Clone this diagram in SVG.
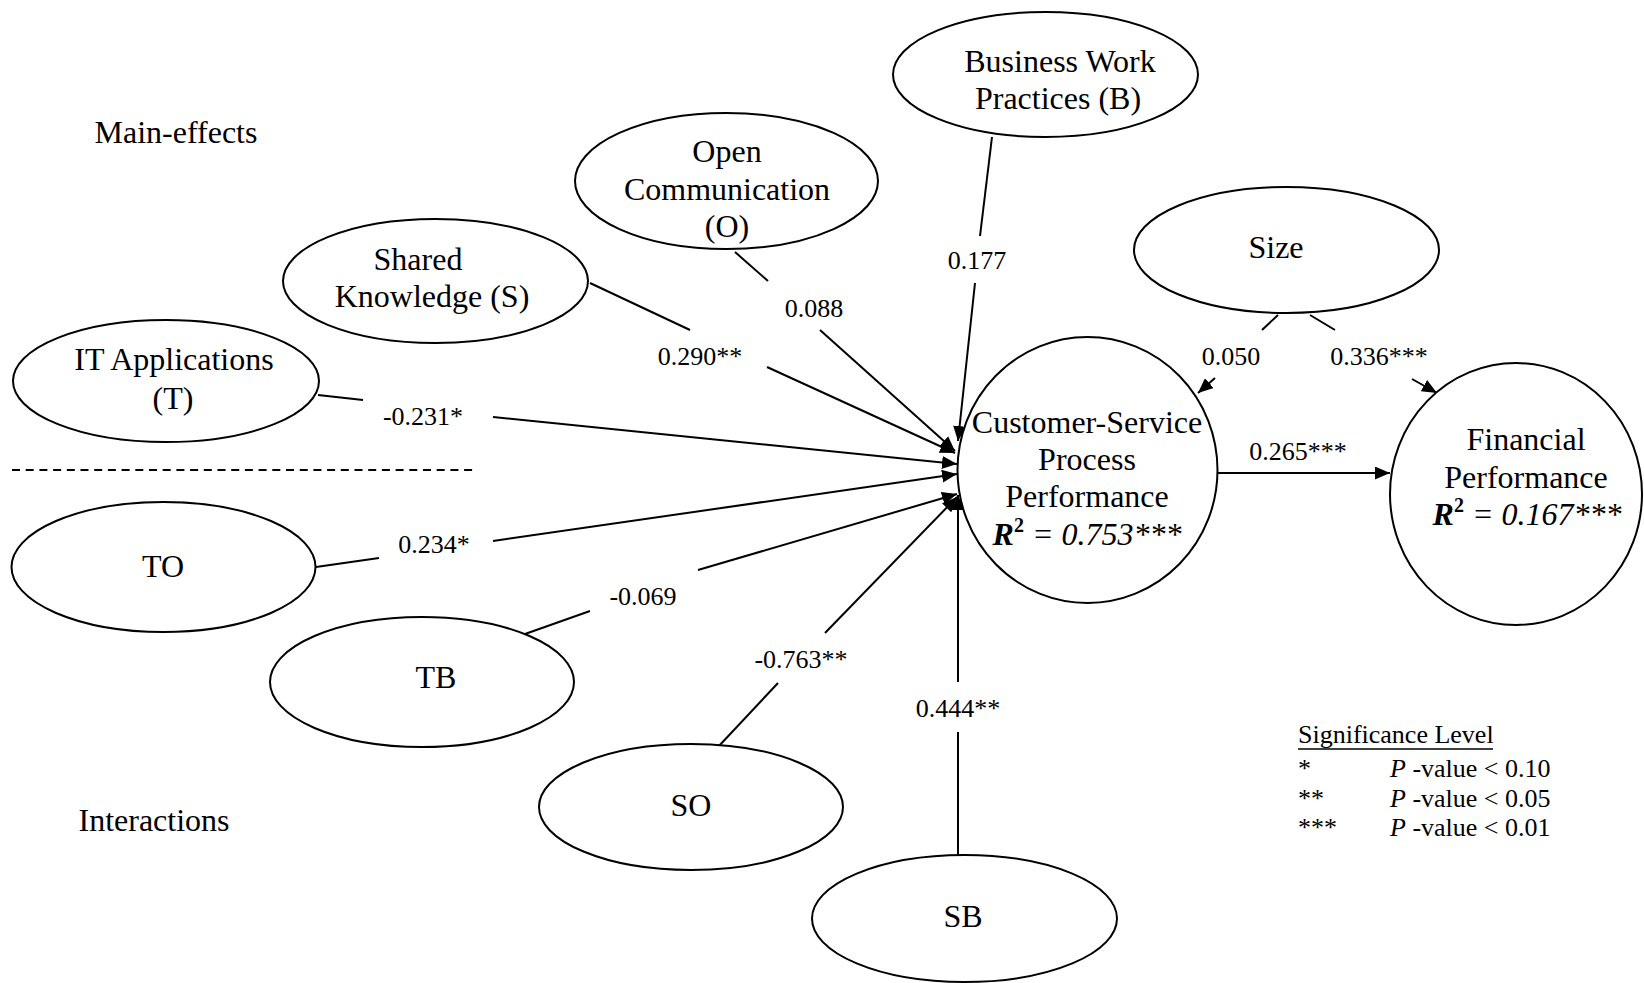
<svg xmlns="http://www.w3.org/2000/svg" width="1644" height="983" viewBox="0 0 1644 983">
<defs>
<marker id="ah" markerWidth="15" markerHeight="13" refX="15" refY="6.5" orient="auto" markerUnits="userSpaceOnUse">
<path d="M0,0 L15,6.5 L0,13 z" fill="#000"/>
</marker>
<style>
.n{fill:#fff;stroke:#000;stroke-width:2}
.t{font-family:"Liberation Serif","Times New Roman",serif;font-size:32px;fill:#000;text-anchor:middle}
.l{font-family:"Liberation Serif","Times New Roman",serif;font-size:26px;fill:#000;text-anchor:middle}
.c line{stroke:#000;stroke-width:2}
.a{marker-end:url(#ah)}
</style>
</defs>
<rect width="1644" height="983" fill="#fff"/>

<g id="connectors" class="c">
<line x1="992" y1="137" x2="980" y2="236"/>
<line class="a" x1="975" y1="283" x2="958" y2="441"/>
<line x1="735" y1="252" x2="768" y2="281"/>
<line class="a" x1="820" y1="330" x2="955" y2="451"/>
<line x1="590" y1="283" x2="690" y2="330"/>
<line class="a" x1="767" y1="367" x2="955" y2="453"/>
<line x1="318" y1="395" x2="363" y2="400"/>
<line class="a" x1="493" y1="417" x2="957" y2="464"/>
<line x1="316" y1="567" x2="379" y2="558"/>
<line class="a" x1="493" y1="541" x2="957" y2="474"/>
<line x1="525" y1="634" x2="590" y2="611"/>
<line class="a" x1="698" y1="570" x2="957" y2="494"/>
<line x1="718" y1="747" x2="778" y2="683"/>
<line class="a" x1="825" y1="633" x2="957" y2="497"/>
<line x1="958" y1="855" x2="958" y2="732"/>
<line class="a" x1="958" y1="682" x2="958" y2="495"/>
<line class="a" x1="1215" y1="473" x2="1390" y2="473"/>
<line x1="1278" y1="315" x2="1262" y2="330"/>
<line class="a" x1="1215" y1="378" x2="1198" y2="393"/>
<line x1="1310" y1="315" x2="1335" y2="330"/>
<line class="a" x1="1412" y1="379" x2="1437" y2="393"/>
<line x1="12" y1="470" x2="477" y2="470" stroke-dasharray="8 5.7"/>
</g>

<g id="edge-labels">
<text class="l" x="977" y="269">0.177</text>
<text class="l" x="814" y="317">0.088</text>
<text class="l" x="700" y="365">0.290**</text>
<text class="l" x="423" y="425">-0.231*</text>
<text class="l" x="434" y="553">0.234*</text>
<text class="l" x="643" y="605">-0.069</text>
<text class="l" x="801" y="668">-0.763**</text>
<text class="l" x="958" y="717">0.444**</text>
<text class="l" x="1298" y="460">0.265***</text>
<text class="l" x="1231" y="365">0.050</text>
<text class="l" x="1379" y="365">0.336***</text>
</g>

<g id="node-B">
<ellipse class="n" cx="1045.5" cy="74.5" rx="152.5" ry="62.5"/>
<text class="t" x="1060" y="72">Business Work</text>
<text class="t" x="1058" y="109">Practices (B)</text>
</g>
<g id="node-O">
<ellipse class="n" cx="726.5" cy="181" rx="151.5" ry="68"/>
<text class="t" x="727" y="162">Open</text>
<text class="t" x="727" y="200">Communication</text>
<text class="t" x="727" y="237">(O)</text>
</g>
<g id="node-S">
<ellipse class="n" cx="435.5" cy="281" rx="152.5" ry="62"/>
<text class="t" x="418" y="270">Shared</text>
<text class="t" x="432" y="307">Knowledge (S)</text>
</g>
<g id="node-T">
<ellipse class="n" cx="166" cy="381" rx="153" ry="61"/>
<text class="t" x="174" y="370">IT Applications</text>
<text class="t" x="173" y="409">(T)</text>
</g>
<g id="node-TO">
<ellipse class="n" cx="163.5" cy="567" rx="152" ry="65"/>
<text class="t" x="163" y="577">TO</text>
</g>
<g id="node-TB">
<ellipse class="n" cx="422" cy="682" rx="152" ry="65"/>
<text class="t" x="436" y="688">TB</text>
</g>
<g id="node-SO">
<ellipse class="n" cx="691" cy="807" rx="152" ry="63"/>
<text class="t" x="691" y="816">SO</text>
</g>
<g id="node-SB">
<ellipse class="n" cx="964.5" cy="918.5" rx="152.5" ry="63.5"/>
<text class="t" x="963" y="927">SB</text>
</g>
<g id="node-Size">
<ellipse class="n" cx="1286.5" cy="250" rx="152.5" ry="63"/>
<text class="t" x="1276" y="258">Size</text>
</g>
<g id="node-CSP">
<ellipse class="n" cx="1087.5" cy="470" rx="130" ry="133"/>
<text class="t" x="1087" y="433">Customer-Service</text>
<text class="t" x="1087" y="470">Process</text>
<text class="t" x="1087" y="507">Performance</text>
<text class="t" x="1087" y="545"><tspan font-weight="bold" font-style="italic">R</tspan><tspan font-weight="bold" font-size="20" dy="-13">2</tspan><tspan font-style="italic" dy="13"> = 0.753***</tspan></text>
</g>
<g id="node-FP">
<ellipse class="n" cx="1516" cy="494" rx="126" ry="131"/>
<text class="t" x="1526" y="450">Financial</text>
<text class="t" x="1526" y="488">Performance</text>
<text class="t" x="1527" y="525"><tspan font-weight="bold" font-style="italic">R</tspan><tspan font-weight="bold" font-size="20" dy="-13">2</tspan><tspan font-style="italic" dy="13"> = 0.167***</tspan></text>
</g>

<g id="section-labels">
<text class="t" x="176" y="143">Main-effects</text>
<text class="t" x="154" y="831">Interactions</text>
</g>

<g id="legend">
<text class="l" x="1298" y="743" text-anchor="start" style="text-anchor:start">Significance Level</text>
<line x1="1298" y1="749" x2="1493" y2="749" stroke="#000" stroke-width="1.5"/>
<text class="l" x="1298" y="777" style="text-anchor:start">*</text>
<text class="l" x="1298" y="807" style="text-anchor:start">**</text>
<text class="l" x="1298" y="836" style="text-anchor:start">***</text>
<text class="l" x="1390" y="777" style="text-anchor:start"><tspan font-style="italic">P</tspan> -value &lt; 0.10</text>
<text class="l" x="1390" y="807" style="text-anchor:start"><tspan font-style="italic">P</tspan> -value &lt; 0.05</text>
<text class="l" x="1390" y="836" style="text-anchor:start"><tspan font-style="italic">P</tspan> -value &lt; 0.01</text>
</g>
</svg>
